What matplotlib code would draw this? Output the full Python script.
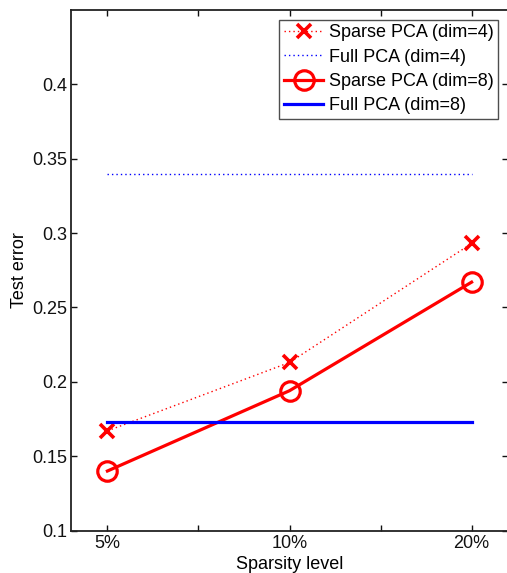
import numpy as np
import matplotlib.pyplot as plt

plt.rcParams['font.family'] = ['Liberation Sans', 'DejaVu Sans']

levels = ['5%', '10%', '20%']
sparse_dim4 = [0.167, 0.213, 0.293]
full_dim4 = [0.340, 0.340, 0.340]
sparse_dim8 = [0.140, 0.194, 0.267]
full_dim8 = [0.173, 0.173, 0.173]

x = np.arange(1, len(levels) + 1)

fig = plt.figure(figsize=(5.07, 5.73), dpi=100)
ax = fig.add_axes([71 / 507, 42.5 / 573, 437 / 507, 520.5 / 573])

ax.plot(x, sparse_dim4, color='red', linestyle=(0, (1, 2.2)), lw=1.0,
        marker='x', markersize=9.5, markeredgewidth=2.6, label='Sparse PCA (dim=4)')
ax.plot(x, full_dim4, color='blue', linestyle=(0, (1, 2.2)), lw=1.0,
        label='Full PCA (dim=4)')
ax.plot(x, sparse_dim8, color='red', linestyle='-', lw=2.3,
        marker='o', markersize=14, markerfacecolor='none', markeredgewidth=2.3,
        label='Sparse PCA (dim=8)')
ax.plot(x, full_dim8, color='blue', linestyle='-', lw=2.3, label='Full PCA (dim=8)')

ax.set_xlim(0.8, 3.2)
ax.set_ylim(0.1, 0.45)
ax.set_xticks([1, 1.5, 2, 2.5, 3])
ax.set_xticklabels(['5%', '', '10%', '', '20%'])
ax.set_yticks([0.1, 0.15, 0.2, 0.25, 0.3, 0.35, 0.4])
ax.set_yticklabels(['0.1', '0.15', '0.2', '0.25', '0.3', '0.35', '0.4'])
ax.tick_params(direction='in', length=4.5, width=1, top=True, right=True,
               labelsize=13, colors='#111111', pad=3)
for s in ax.spines.values():
    s.set_linewidth(1.3)
    s.set_color('#222222')

ax.set_xlabel('Sparsity level', fontsize=13, labelpad=3)
ax.set_ylabel('Test error', fontsize=13, labelpad=3)

leg = ax.legend(loc='upper right', fontsize=13, frameon=True, fancybox=False,
                edgecolor='#222222', borderpad=0.25, labelspacing=0.4,
                handlelength=2.2, handletextpad=0.3, borderaxespad=0.55)
leg.get_frame().set_linewidth(1.0)

fig.savefig('out.png', dpi=100)
